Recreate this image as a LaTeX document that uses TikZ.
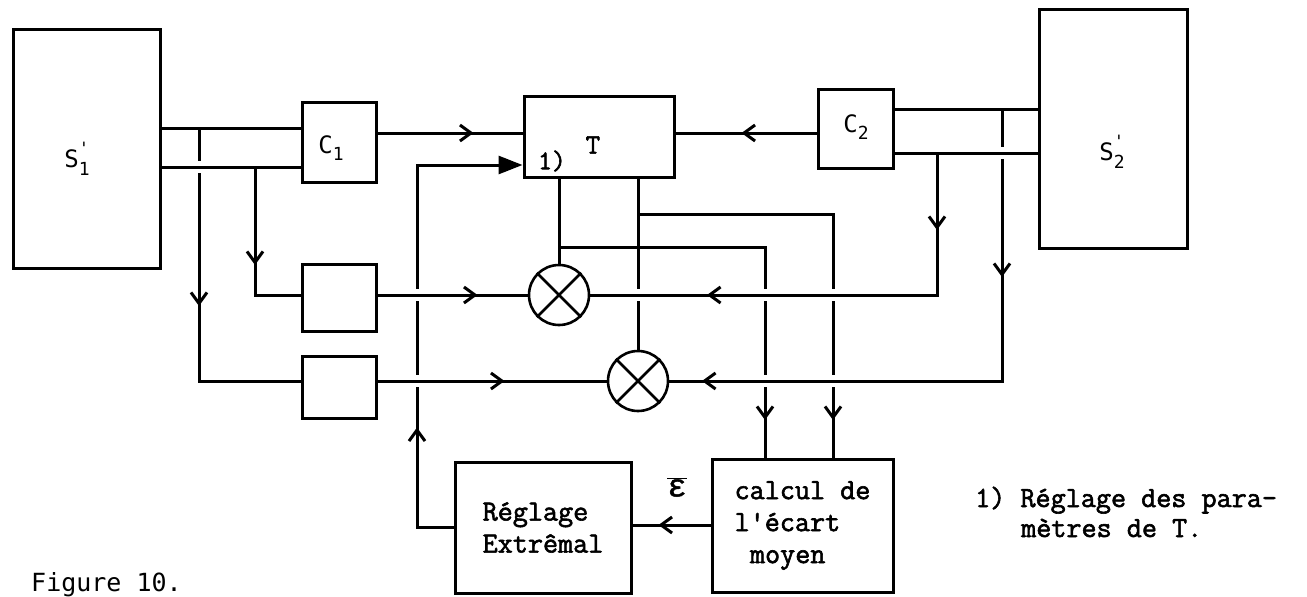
\documentclass[tikz,border=0pt]{standalone}
\usepackage{fontspec}
\setmainfont{Latin Modern Mono}[FakeBold=2]
\newfontfamily\lblfont{DejaVu Sans Mono}
\newfontfamily\grkfont{Liberation Mono}[FakeBold=1.5]
\usetikzlibrary{arrows.meta,decorations.markings}
\newcommand\subsc[1]{\raisebox{-0.32em}{\fontsize{18}{18}\selectfont #1}}
\newcommand\primesub[1]{\rlap{\raisebox{0.55em}{\fontsize{17}{17}\selectfont\textquotesingle}}\subsc{#1}}
\begin{document}
\begin{tikzpicture}[x=1pt,y=-1pt,
  ln/.style={line width=3pt},
  blk/.style={draw,line width=3pt,inner sep=0pt},
  lbl/.style={inner sep=0pt,font=\lblfont\fontsize{24}{24}\selectfont},
  txt/.style={font=\fontsize{29.3}{32}\selectfont},
  am/.style={postaction={decorate,decoration={markings,mark=at position #1 with {\arrow{Straight Barb[length=11pt,width=16pt]}}}}},
  amm/.style n args={2}{postaction={decorate,decoration={markings,mark=at position #1 with {\arrow{Straight Barb[length=11pt,width=16pt]}},mark=at position #2 with {\arrow{Straight Barb[length=11pt,width=16pt]}}}}}
]
\useasboundingbox (0,0) rectangle (1307,597);

% blocks
\node[blk,minimum width=147pt,minimum height=239pt] (S1) at (86.5,148.5) {};
\node[blk,minimum width=74pt,minimum height=80pt] (C1) at (339,142) {};
\node[blk,minimum width=150pt,minimum height=81pt] (T) at (599,136.5) {};
\node[blk,minimum width=75pt,minimum height=79pt] (C2) at (855.5,128.5) {};
\node[blk,minimum width=148pt,minimum height=239pt] (S2) at (1113,128.5) {};
\node[blk,minimum width=74pt,minimum height=67pt] (B1) at (339,298) {};
\node[blk,minimum width=74pt,minimum height=62pt] (B2) at (339,387) {};
\node[draw,line width=2.6pt,circle,minimum size=60pt,inner sep=0pt] (M1) at (559,295) {};
\node[draw,line width=2.6pt,circle,minimum size=60pt,inner sep=0pt] (M2) at (638,381) {};
\node[blk,txt,align=left,minimum width=176pt,minimum height=131pt] (R) at (543,527.5) {Réglage\\Extrêmal};
\node[blk,txt,align=left,minimum width=181pt,minimum height=133pt] (K) at (802.5,525.5) {calcul de\\l\textquotesingle écart\\\hspace*{15.4pt}moyen};

\draw[line width=2.6pt] (M1.45) -- (M1.225) (M1.135) -- (M1.315);
\draw[line width=2.6pt] (M2.45) -- (M2.225) (M2.135) -- (M2.315);

% labels
\node[lbl] (S1l) at (77,159) {S\primesub{1}};
\node[lbl] (C1l) at (331,148) {C\subsc{1}};
\node[lbl] (C2l) at (856,127) {C\subsc{2}};
\node[lbl] (S2l) at (1112,152) {S\primesub{2}};
\node[inner sep=0pt,font=\fontsize{28}{28}\selectfont] (Tl) at (593,145) {T};
\node[inner sep=0pt,font=\fontsize{27}{27}\selectfont] (Tn) at (552,161) {1)};
\node[inner sep=0pt,font=\grkfont\fontsize{32}{32}\selectfont] (eps) at (677,487) {$\overline{\hbox{ε}}$};
\node[anchor=base west,inner sep=0pt,txt] (fn1) at (975,507) {1) Réglage des para-};
\node[anchor=base west,inner sep=0pt,txt] (fn2) at (1021,537) {mètres de T.};
\node[anchor=base west,inner sep=0pt,font=\lblfont\fontsize{25}{25}\selectfont] (fig) at (31,591) {Figure 10.};

% junction coordinates
\coordinate (ja) at (199,128);
\coordinate (jb) at (255,167);
\coordinate (jc) at (0,133);
\coordinate (fa) at (417,165);
\coordinate (fb) at (417,527);
\coordinate (jd) at (1002,109);
\coordinate (je) at (937,153);
\coordinate (r1) at (0,295);
\coordinate (r2) at (0,381);
\coordinate (jf) at (559,247);
\coordinate (xa) at (765,247);
\coordinate (jg) at (638,214);
\coordinate (xb) at (833,214);
\coordinate (jh) at (0,525);

% connectors
\draw[ln] (S1.east |- ja) -- (C1.west |- ja);
\draw[ln] (S1.east |- jb) -- (C1.west |- jb);
\draw[ln,am=178pt] (ja) |- (B2.west |- r2);
\draw[ln,am=98pt] (jb) |- (B1.west |- r1);
\draw[ln,am=96pt] (C1.east |- jc) -- (T.west |- jc);
\draw[ln,am=75pt] (C2.west |- jc) -- (T.east |- jc);
\draw[ln] (S2.west |- jd) -- (C2.east |- jd);
\draw[ln] (S2.west |- je) -- (C2.east |- je);
\draw[ln,amm={168pt}{572pt}] (jd) |- (M2.east);
\draw[ln,amm={77pt}{372pt}] (je) |- (M1.east);
\draw[ln,am=100pt] (B1.east |- r1) -- (M1.west);
\draw[ln,am=127pt] (B2.east |- r2) -- (M2.west);
\draw[ln] (T.south -| M1) -- (M1.north);
\draw[ln] (T.south -| M2) -- (M2.north);
\draw[ln,am=379pt] (jf) -- (xa) -- (xa |- K.north);
\draw[ln,am=401pt] (jg) -- (xb) -- (xb |- K.north);
\draw[ln,am=52pt] (K.west |- jh) -- (R.east |- jh);
\draw[ln,am=136pt,-{Triangle[length=24pt,width=18pt]}] (R.west |- fb) -- (fb) -- (fa) -- (T.west |- fa);

% line crossings (horizontal passes over vertical)
\foreach \hx/\hy in {417/295,417/381,638/295,765/295,833/295,765/381,833/381,1002/153,199/167}{
  \fill[white] (\hx-5,\hy-6) rectangle (\hx+5,\hy+6);
  \draw[ln] (\hx-7,\hy) -- (\hx+7,\hy);
}
\end{tikzpicture}
\end{document}
